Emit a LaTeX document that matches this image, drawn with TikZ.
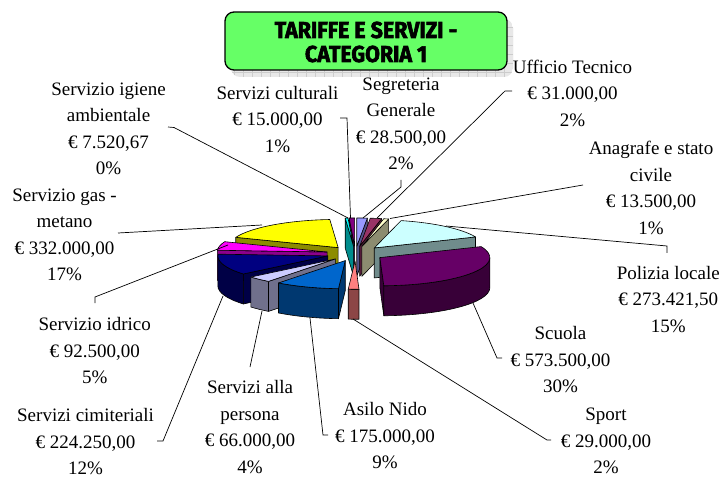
\documentclass[tikz,border=0pt]{standalone}
\usepackage{fontspec}
\setmainfont{Liberation Serif}
\newfontfamily\titlefont{Fira Sans}[FakeStretch=0.93, BoldFeatures={FakeBold=2.5}]
\definecolor{cSeg}{HTML}{9999FF}
\definecolor{cUff}{HTML}{993366}
\definecolor{cAna}{HTML}{FFFFCC}
\definecolor{cPol}{HTML}{CCFFFF}
\definecolor{cScu}{HTML}{660066}
\definecolor{cSpo}{HTML}{FF8080}
\definecolor{cAsi}{HTML}{0066CC}
\definecolor{cPer}{HTML}{CCCCFF}
\definecolor{cCim}{HTML}{000080}
\definecolor{cIdr}{HTML}{FF00FF}
\definecolor{cGas}{HTML}{FFFF00}
\definecolor{cIgi}{HTML}{00FFFF}
\definecolor{cCul}{HTML}{800080}
\definecolor{titlegreen}{HTML}{66FF66}
\tikzset{
  sideface/.style={fill=#1!55!black, draw=black, line width=0.6bp, line join=round},
  topface/.style={fill=#1, draw=black, line width=0.6bp, line join=round},
  leader/.style={draw=black, line width=0.7bp},
  lab/.style={align=center, inner sep=0pt, font=\fontsize{19bp}{26.5bp}\selectfont},
}
% #1 start angle, #2 end angle (a1<a2), #3 colour
\newcommand\pieslice[3]{%
  \pgfmathsetmacro\PSm{(#1+#2)/2}%
  \pgfmathsetmacro\PSax{355.4+29*cos(\PSm)}%
  \pgfmathsetmacro\PSay{-253.6+7.43*sin(\PSm)}%
  \pgfmathsetmacro\PSby{\PSay-30}%
  \pgfmathsetmacro\PSca{cos(#1)}%
  \pgfmathsetmacro\PScb{cos(#2)}%
  \pgfmathsetmacro\PSos{max(#1,-180)}%
  \pgfmathsetmacro\PSoe{min(#2,0)}%
  \ifdim\PSca pt>0.0001pt
    \filldraw[sideface=#3] (\PSax,\PSay) -- ++(#1:110 and 28.2) -- ++(0,-30) -- (\PSax,\PSby) -- cycle;
  \fi
  \ifdim\PScb pt<-0.0001pt
    \filldraw[sideface=#3] (\PSax,\PSay) -- ++(#2:110 and 28.2) -- ++(0,-30) -- (\PSax,\PSby) -- cycle;
  \fi
  \ifdim\PSoe pt>\PSos pt
    \filldraw[sideface=#3] (\PSax,\PSay) ++(\PSos:110 and 28.2)
      arc[start angle=\PSos, end angle=\PSoe, x radius=110, y radius=28.2]
      -- ++(0,-30)
      arc[start angle=\PSoe, end angle=\PSos, x radius=110, y radius=28.2] -- cycle;
  \fi
  \filldraw[topface=#3] (\PSax,\PSay) -- ++(#1:110 and 28.2)
    arc[start angle=#1, end angle=#2, x radius=110, y radius=28.2] -- cycle;
}
\begin{document}
\begin{tikzpicture}[x=1bp,y=1bp]
\useasboundingbox (0,0) rectangle (725,-477);

% ---- title ----
\begin{scope}
  \clip[rounded corners=9bp] (231,-19) rectangle (513,-77);
  \fill[gray!18] (231,-19) rectangle (513,-77);
  \draw[gray!40, line width=0.5bp, step=9] (225,-80) grid (520,-10);
\end{scope}
\filldraw[fill=titlegreen, draw=black, line width=1.3bp, rounded corners=9bp] (225,-12) rectangle (507,-70);
\node[font=\titlefont\bfseries\fontsize{23bp}{24bp}\selectfont, align=center, inner sep=0pt] (title) at (366,-42) {TARIFFE E SERVIZI -\\CATEGORIA 1};

% ---- pie (back to front) ----
\pieslice{-270}{-267.099}{cCul}
\pieslice{84.487}{90}{cSeg}
\pieslice{-267.099}{-265.644}{cIgi}
\pieslice{78.491}{84.487}{cUff}
\pieslice{75.880}{78.491}{cAna}
\pieslice{-265.644}{-201.427}{cGas}
\pieslice{22.994}{75.880}{cPol}
\pieslice{-201.427}{-183.535}{cIdr}
\pieslice{-183.535}{-140.160}{cCim}
\pieslice{-87.935}{22.994}{cScu}
\pieslice{-140.160}{-127.394}{cPer}
\pieslice{-127.394}{-93.544}{cAsi}
\pieslice{-93.544}{-87.935}{cSpo}

% ---- labels ----
\node[lab] (igi) at (108.5,-129) {Servizio igiene\\ambientale\\€ 7.520,67\\0\%};
\node[lab] (cul) at (277.5,-119.5) {Servizi culturali\\€ 15.000,00\\1\%};
\node[lab] (seg) at (401,-124) {Segreteria\\Generale\\€ 28.500,00\\2\%};
\node[lab] (uff) at (572.5,-93) {Ufficio Tecnico\\€ 31.000,00\\2\%};
\node[lab] (ana) at (651,-188) {Anagrafe e stato\\civile\\€ 13.500,00\\1\%};
\node[lab] (pol) at (668.3,-299.5) {Polizia locale\\€ 273.421,50\\15\%};
\node[lab] (scu) at (560.5,-360) {Scuola\\€ 573.500,00\\30\%};
\node[lab] (spo) at (606,-441) {Sport\\€ 29.000,00\\2\%};
\node[lab] (asi) at (385,-436) {Asilo Nido\\€ 175.000,00\\9\%};
\node[lab] (per) at (250,-427) {Servizi alla\\persona\\€ 66.000,00\\4\%};
\node[lab] (cim) at (85.5,-442) {Servizi cimiteriali\\€ 224.250,00\\12\%};
\node[lab] (idr) at (94.7,-350.7) {Servizio idrico\\€ 92.500,00\\5\%};
\node[lab] (gas) at (64.5,-235) {Servizio gas -\\metano\\€ 332.000,00\\17\%};

% ---- leader lines ----
\coordinate (igiA) at (168,-127); \coordinate (igiB) at (174,-127.5); \coordinate (igiS) at (348,-218);
\coordinate (culA) at (340,-118); \coordinate (culB) at (347,-118); \coordinate (culS) at (350.5,-218);
\coordinate (segA) at (401,-180); \coordinate (segB) at (401,-187); \coordinate (segS) at (363,-218);
\coordinate (uffA) at (512,-91); \coordinate (uffB) at (505,-91); \coordinate (uffS) at (377,-218);
\coordinate (anaA) at (583,-185); \coordinate (anaS) at (390,-218.5);
\coordinate (polA) at (667,-253); \coordinate (polB) at (667,-246); \coordinate (polS) at (446,-226);
\coordinate (scuA) at (502,-358); \coordinate (scuB) at (497,-358); \coordinate (scuS) at (473,-303);
\coordinate (spoA) at (551,-440); \coordinate (spoB) at (547,-440); \coordinate (spoS) at (353,-319);
\coordinate (asiA) at (328,-435); \coordinate (asiB) at (323,-435); \coordinate (asiS) at (310,-318);
\coordinate (perA) at (250,-367); \coordinate (perS) at (262,-311);
\coordinate (cimA) at (157,-441); \coordinate (cimB) at (163,-441); \coordinate (cimS) at (223,-296);
\coordinate (idrA) at (95,-303); \coordinate (idrB) at (95,-297); \coordinate (idrS) at (228,-245);
\coordinate (gasA) at (118,-233); \coordinate (gasS) at (262,-225);

\draw[leader] (igiA) -- (igiB) -- (igiS);
\draw[leader] (culA) -- (culB) -- (culS);
\draw[leader] (segA) -- (segB) -- (segS);
\draw[leader] (uffA) -- (uffB) -- (uffS);
\draw[leader] (anaA) -- (anaS);
\draw[leader] (polA) -- (polB) -- (polS);
\draw[leader] (scuA) -- (scuB) -- (scuS);
\draw[leader] (spoA) -- (spoB) -- (spoS);
\draw[leader] (asiA) -- (asiB) -- (asiS);
\draw[leader] (perA) -- (perS);
\draw[leader] (cimA) -- (cimB) -- (cimS);
\draw[leader] (idrA) -- (idrB) -- (idrS);
\draw[leader] (gasA) -- (gasS);
\end{tikzpicture}
\end{document}
